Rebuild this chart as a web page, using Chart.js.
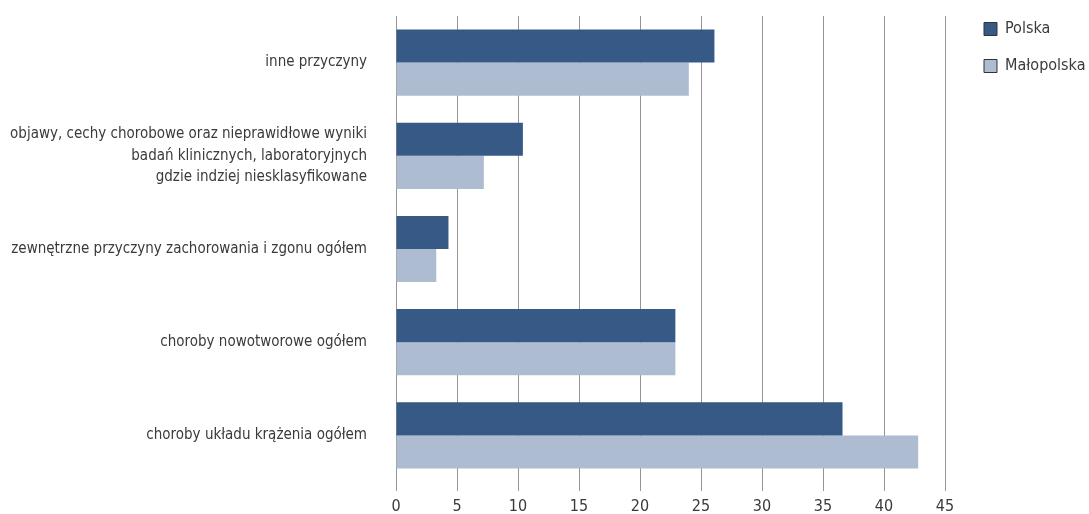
<!DOCTYPE html>
<html>
  <head>
    <meta charset="utf-8" />
    <title>Przyczyny zgonów</title>
    <script src="https://cdn.jsdelivr.net/npm/chart.js"></script>
    <style>
      body {
        margin: 0;
        background: #fff;
      }
      .chart-container {
        width: 1089px;
        height: 514px;
      }
    </style>
  </head>
  <body>
    <div class="chart-container">
      <canvas id="myChart"></canvas>
    </div>

    <script>
      // categories, top to bottom
      const categories = [
        "inne przyczyny",
        ["objawy, cechy chorobowe oraz nieprawidłowe wyniki", "badań klinicznych, laboratoryjnych", "gdzie indziej niesklasyfikowane"],
        "zewnętrzne przyczyny zachorowania i zgonu ogółem",
        "choroby nowotworowe ogółem",
        "choroby układu krążenia ogółem"
      ];
      const polska = [26.1, 10.4, 4.3, 22.9, 36.6];
      const malopolska = [24.0, 7.2, 3.3, 22.9, 42.8];
      const seriesNames = ["Polska", "Małopolska"];
      const xTicks = [0, 5, 10, 15, 20, 25, 30, 35, 40, 45];

      const fontFamily = "'DejaVu Sans Condensed', 'DejaVu Sans', sans-serif";
      const textColor = "#3a3a3a";

      // place the legend to the right of the plot, like in the original
      const legendPlace = {
        id: "legendPlace",
        afterLayout(chart) {
          const lg = chart.legend;
          const w = lg.width;
          lg.left = chart.chartArea.right + 18;
          lg.right = lg.left + w;
          lg.top = 0;
          lg.bottom = lg.top + 100;
        }
      };

      const ctx = document.getElementById("myChart").getContext("2d");
      const chart = new Chart(ctx, {
        type: "bar",
        data: {
          labels: categories,
          datasets: [
            {
              label: seriesNames[0],
              data: polska,
              backgroundColor: "#365986",
              categoryPercentage: 0.71,
              barPercentage: 1.0
            },
            {
              label: seriesNames[1],
              data: malopolska,
              backgroundColor: "#adbcd0",
              categoryPercentage: 0.71,
              barPercentage: 1.0
            }
          ]
        },
        options: {
          indexAxis: "y",
          responsive: true,
          maintainAspectRatio: false,
          animation: false,
          layout: {
            padding: { top: 16, bottom: 0, left: 0, right: 0 }
          },
          plugins: {
            tooltip: { enabled: false },
            legend: {
              position: "right",
              align: "start",
              labels: {
                boxWidth: 13,
                boxHeight: 13,
                padding: 21,
                color: textColor,
                font: { family: fontFamily, size: 16 },
                generateLabels: function (chart) {
                  return chart.data.datasets.map(function (ds, i) {
                    return {
                      text: ds.label,
                      fillStyle: ds.backgroundColor,
                      strokeStyle: "#333333",
                      lineWidth: 1,
                      fontColor: textColor,
                      datasetIndex: i
                    };
                  });
                }
              }
            }
          },
          scales: {
            x: {
              min: 0,
              max: 45,
              afterBuildTicks(scale) {
                scale.ticks = xTicks.map((v) => ({ value: v }));
              },
              afterFit(scale) {
                scale.height = 32;
                scale.paddingLeft = 0;
                scale.paddingRight = 0;
              },
              ticks: {
                color: textColor,
                font: { family: fontFamily, size: 16 },
                padding: 6
              },
              grid: {
                color: "#959595",
                lineWidth: 1,
                tickLength: 9
              },
              border: { display: false }
            },
            y: {
              afterFit(scale) {
                scale.width = 396;
                scale.paddingTop = 0;
                scale.paddingBottom = 0;
              },
              ticks: {
                color: textColor,
                font: { family: fontFamily, size: 15, lineHeight: 1.42 },
                padding: 21
              },
              grid: { display: false },
              border: { color: "#959595" }
            }
          }
        },
        plugins: [legendPlace]
      });

      // make the legend box exactly fill the space right of the plot
      const origFit = chart.legend.fit;
      chart.legend.fit = function () {
        origFit.call(this);
        this.width = 144;
      };
      chart.update();
    </script>
  </body>
</html>
